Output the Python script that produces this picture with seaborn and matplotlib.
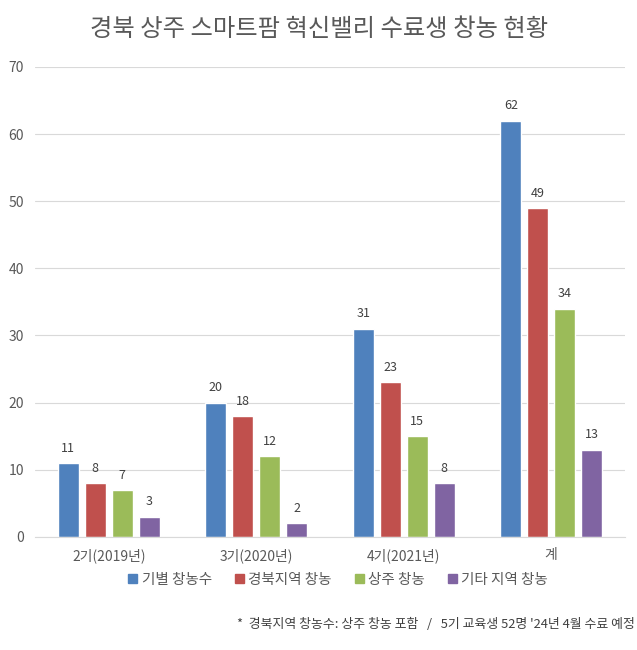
import matplotlib
matplotlib.use("Agg")
import matplotlib.pyplot as plt
import seaborn as sns
import pandas as pd

categories = ["2기(2019년)", "3기(2020년)", "4기(2021년)", "계"]
series = ["기별 창농수", "경북지역 창농", "상주 창농", "기타 지역 창농"]
values = {
    "기별 창농수": [11, 20, 31, 62],
    "경북지역 창농": [8, 18, 23, 49],
    "상주 창농": [7, 12, 15, 34],
    "기타 지역 창농": [3, 2, 8, 13],
}
colors = ["#4F81BD", "#C0504D", "#9BBB59", "#8064A2"]

rows = []
for s in series:
    for c, v in zip(categories, values[s]):
        rows.append({"cat": c, "series": s, "value": v})
df = pd.DataFrame(rows)

sns.set_style("white")
plt.rcParams['font.family'] = ['Noto Sans CJK KR', 'DejaVu Sans']

fig = plt.figure(figsize=(6.37, 6.5), dpi=100)
ax = fig.add_axes([0.055, 0.174, 0.926, 0.723])

sns.barplot(data=df, x="cat", y="value", hue="series", palette=colors,
            saturation=1, width=0.73, gap=0.22, ax=ax, legend=False)

for cont in ax.containers:
    ax.bar_label(cont, padding=6, fontsize=9, color="#404040")

ax.set_ylim(0, 70)
ax.set_yticks(range(0, 71, 10))
ax.yaxis.grid(True, color="#D9D9D9", linewidth=0.8)
ax.set_axisbelow(True)
for sp in ["top", "right", "left"]:
    ax.spines[sp].set_visible(False)
ax.spines["bottom"].set_color("#D9D9D9")
ax.tick_params(axis="both", length=0, labelsize=10, colors="#595959", pad=8)
ax.set_xlabel("")
ax.set_ylabel("")

fig.text(0.501, 0.955, "경북 상주 스마트팜 혁신밸리 수료생 창농 현황", ha="center", va="center",
         fontsize=17.5, color="#595959")

handles = [plt.Rectangle((0, 0), 1, 1, color=c) for c in colors]
fig.legend(handles, series, loc="center", bbox_to_anchor=(0.531, 0.108), ncol=4,
           frameon=False, fontsize=10.5, handlelength=0.6, handleheight=0.6,
           handletextpad=0.3, columnspacing=1.6, labelcolor="#595959")

fig.text(0.997, 0.04, "*  경북지역 창농수: 상주 창농 포함   /   5기 교육생 52명 '24년 4월 수료 예정",
         ha="right", va="center", fontsize=9.3, color="#404040")

fig.savefig("out.png", dpi=100)
